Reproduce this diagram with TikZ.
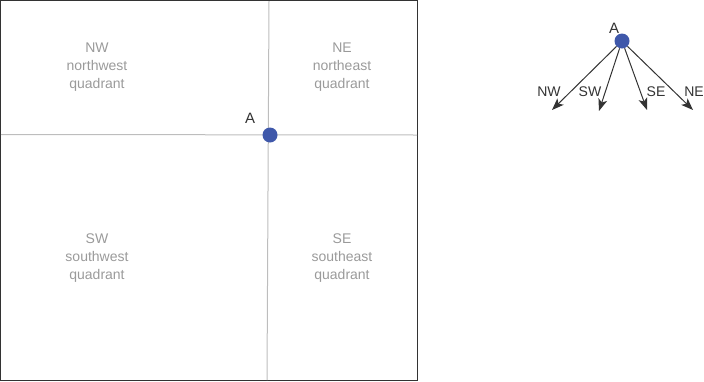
\documentclass[tikz,border=0pt]{standalone}
\usepackage{fontspec}
\setmainfont{Liberation Sans}
\usetikzlibrary{arrows.meta}
\definecolor{dotblue}{HTML}{3F58AA}
\definecolor{quadtext}{HTML}{9A9A9A}
\definecolor{gridline}{HTML}{BDBDBD}
\definecolor{ink}{HTML}{333333}
\tikzset{
  quadlabel/.style={text=quadtext, font=\fontsize{14}{18}\selectfont, align=center, inner sep=0pt},
  ptlabel/.style={text=ink, font=\fontsize{15}{16}\selectfont, inner sep=0pt},
  dirlabel/.style={text=ink, font=\fontsize{14}{16}\selectfont, inner sep=0pt},
  pointdot/.style={circle, fill=dotblue, minimum size=15pt, inner sep=0pt},
  dirarrow/.style={draw=ink, line width=1pt, -{Stealth[length=12pt,width=9pt,inset=3pt]}},
}
\begin{document}
\begin{tikzpicture}[x=1pt,y=-1pt]
\useasboundingbox (0,0) rectangle (704,381);
% outer frame
\draw[ink, line width=1pt] (0.5,0.5) rectangle (417.5,380.5);
% quadrant dividers
\coordinate (vtop) at (269,1);
\coordinate (vbot) at (267,380);
\coordinate (hleft) at (1,134.5);
\coordinate (hright) at (417,135);
\draw[gridline, line width=1pt] (vtop) -- (vbot);
\draw[gridline, line width=1pt] (hleft) -- (hright);
% quadrant names
\node[quadlabel] (nw) at (97,67) {NW\\northwest\\quadrant};
\node[quadlabel] (ne) at (342,67) {NE\\northeast\\quadrant};
\node[quadlabel] (sw) at (97,258) {SW\\southwest\\quadrant};
\node[quadlabel] (se) at (342,258) {SE\\southeast\\quadrant};
% point A on the grid
\node[pointdot] (a1) at (270,135) {};
\node[ptlabel] (a1lab) at (250,118) {A};
% fan of directions
\node[pointdot] (a2) at (622,41) {};
\node[ptlabel] (a2lab) at (614,28) {A};
\coordinate (tnw) at (552,110);
\coordinate (tsw) at (599,111);
\coordinate (tse) at (647,110);
\coordinate (tne) at (693,110);
\draw[dirarrow] (a2) -- (tnw);
\draw[dirarrow] (a2) -- (tsw);
\draw[dirarrow] (a2) -- (tse);
\draw[dirarrow] (a2) -- (tne);
\node[dirlabel] (lnw) at (549,92) {NW};
\node[dirlabel] (lsw) at (590,92) {SW};
\node[dirlabel] (lse) at (656,92) {SE};
\node[dirlabel] (lne) at (694,92) {NE};
\end{tikzpicture}
\end{document}
